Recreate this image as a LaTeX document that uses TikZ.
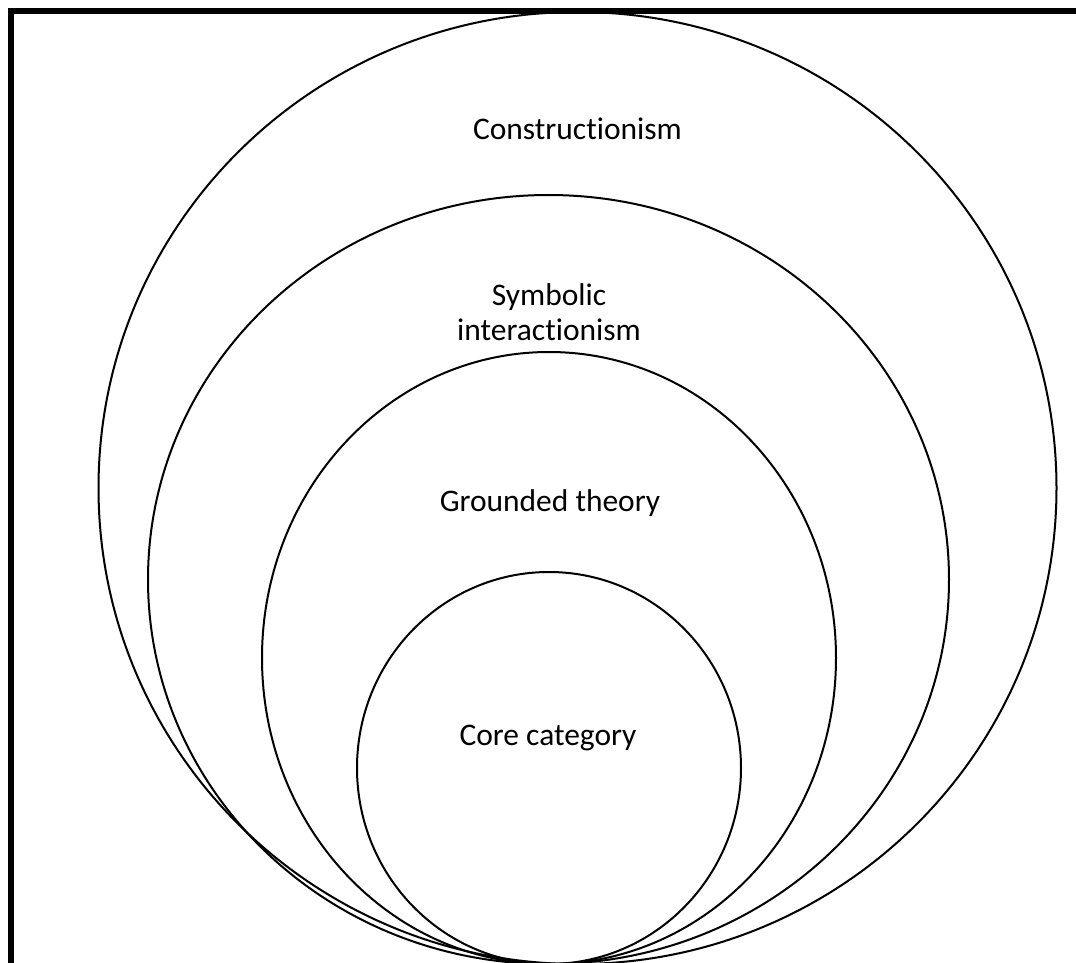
\documentclass[tikz,border=0pt]{standalone}
\usepackage{fontspec}
\setmainfont{Carlito}[Ligatures=NoCommon]
\usepackage{tikz}

\begin{document}
\begin{tikzpicture}[x=0.75pt, y=-0.75pt, line width=1.5pt,
every node/.style={font=\fontsize{23.6}{26.25}\selectfont, align=center}]
\useasboundingbox (0,0) rectangle (1076,963);
\clip (0,0) rectangle (1076,963);
% frame
\draw[line width=3.8pt, line join=miter] (11,1000) -- (11,11) -- (1100,11);
% nested levels
\draw (577.5,488) ellipse [x radius=479, y radius=476];
\draw (548.5,579.5) ellipse [x radius=400.5, y radius=384.5];
\draw (549,658) ellipse [x radius=287, y radius=306];
\draw (549,768) ellipse [x radius=192, y radius=196];
\node[anchor=base] (constr) at (577.5,140) {Constructionism};
\node (symint) at (549,312) {Symbolic\\interactionism};
\node[anchor=base] (grounded) at (550,511) {Grounded theory};
\node[anchor=base] (core) at (548,745) {Core category};
\end{tikzpicture}
\end{document}
